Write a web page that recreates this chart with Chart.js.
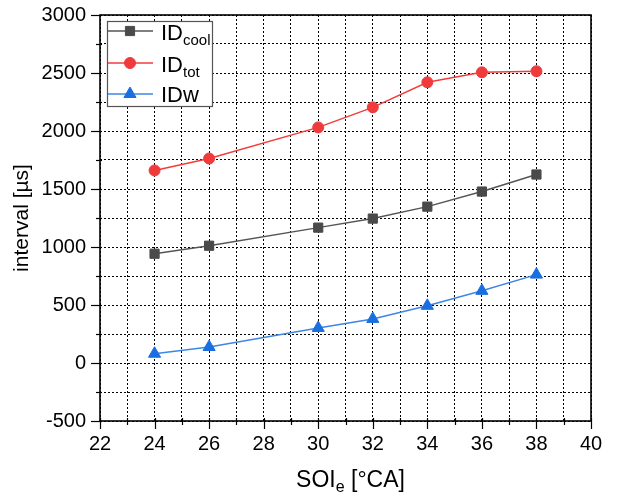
<!DOCTYPE html>
<html><head><meta charset="utf-8">
<script src="https://cdn.jsdelivr.net/npm/chart.js@4/dist/chart.umd.min.js"></script>
<style>html,body{margin:0;padding:0;background:#fff}#wrap{width:625px;height:497px}</style>
</head><body><div id="wrap"><canvas id="c" width="625" height="497"></canvas></div>
<script>
const xValues = [24, 26, 30, 32, 34, 36, 38];
const idCool = [942, 1011, 1167, 1245, 1348, 1478, 1625];
const idTot = [1660, 1763, 2031, 2204, 2420, 2506, 2515];
const idW = [80, 138, 302, 380, 493, 622, 762];
const xTickLabels = [22, 24, 26, 28, 30, 32, 34, 36, 38, 40];
const yTickLabels = [-500, 0, 500, 1000, 1500, 2000, 2500, 3000];
const seriesNames = [["ID", "cool"], ["ID", "tot"], ["IDw", ""]];

const FONT = "'Liberation Sans', Arial, sans-serif";
const styles = [
  {line: '#555555', fill: '#4a4a4a', point: 'rect', r: 6.5},
  {line: '#f23c3c', fill: '#ef3b3b', point: 'circle', r: 5.5},
  {line: '#3d86e6', fill: '#1a6fe0', point: 'triangle', r: 7}
];
const seriesData = [idCool, idTot, idW];

function drawMarker(ctx, st, x, y) {
  ctx.save();
  ctx.fillStyle = st.fill; ctx.strokeStyle = st.fill; ctx.lineWidth = 1;
  ctx.beginPath();
  if (st.point === 'rect') {
    const s = st.r * Math.SQRT1_2;
    ctx.rect(x - s, y - s, 2 * s, 2 * s);
  } else if (st.point === 'circle') {
    ctx.arc(x, y, st.r, 0, Math.PI * 2);
  } else {
    let rad = 0;
    ctx.moveTo(x + Math.sin(rad) * st.r, y - Math.cos(rad) * st.r);
    rad += 2 * Math.PI / 3;
    ctx.lineTo(x + Math.sin(rad) * st.r, y - Math.cos(rad) * st.r);
    rad += 2 * Math.PI / 3;
    ctx.lineTo(x + Math.sin(rad) * st.r, y - Math.cos(rad) * st.r);
    ctx.closePath();
  }
  ctx.fill(); ctx.stroke();
  ctx.restore();
}

const decor = {
  id: 'decor',
  afterDraw(chart) {
    const ctx = chart.ctx;
    const {left, right, top, bottom} = chart.chartArea;
    const xs = chart.scales.x, ys = chart.scales.y;
    ctx.save();
    // ticks
    ctx.strokeStyle = '#000'; ctx.lineWidth = 1.2;
    for (let v = 22; v <= 40; v += 1) {
      const p = Math.round(xs.getPixelForValue(v)) + 0.5;
      const major = xTickLabels.includes(v);
      ctx.beginPath(); ctx.moveTo(p, bottom - 3); ctx.lineTo(p, bottom + (major ? 8 : 4)); ctx.stroke();
    }
    for (let v = -500; v <= 3000; v += 250) {
      const p = Math.round(ys.getPixelForValue(v)) + 0.5;
      const major = yTickLabels.includes(v);
      ctx.beginPath(); ctx.moveTo(left + 2, p); ctx.lineTo(left - (major ? 9 : 4), p); ctx.stroke();
    }
    // frame
    ctx.lineWidth = 1.6;
    ctx.strokeRect(left, top, right - left, bottom - top);

    // axis titles
    ctx.fillStyle = '#000';
    ctx.font = '23px ' + FONT;
    ctx.textBaseline = 'alphabetic';
    const mainA = 'SOI', sub = 'e', mainB = ' [°CA]';
    const wA = ctx.measureText(mainA).width, wB = ctx.measureText(mainB).width;
    ctx.font = '16px ' + FONT;
    const wS = ctx.measureText(sub).width;
    const total = wA + wS + wB;
    let tx = (left + right) / 2 + 5 - total / 2;
    const ty = 487;
    ctx.font = '23px ' + FONT; ctx.textAlign = 'left';
    ctx.fillText(mainA, tx, ty);
    ctx.font = '16px ' + FONT; ctx.fillText(sub, tx + wA, ty + 5);
    ctx.font = '23px ' + FONT; ctx.fillText(mainB, tx + wA + wS, ty);

    ctx.save();
    ctx.font = '21px ' + FONT;
    ctx.translate(22, (top + bottom) / 2);
    ctx.rotate(-Math.PI / 2);
    ctx.textAlign = 'center'; ctx.textBaseline = 'middle';
    ctx.fillText('interval [µs]', 0, 0);
    ctx.restore();

    // legend
    const bx = 107, by = 21, bw = 105, bh = 85;
    ctx.fillStyle = '#fff'; ctx.fillRect(bx, by, bw, bh);
    ctx.strokeStyle = '#555'; ctx.lineWidth = 1.2;
    ctx.strokeRect(bx + 0.5, by + 0.5, bw, bh);
    const rows = [31, 63, 94];
    const bases = [40, 71.5, 101.5];
    for (let i = 0; i < 3; i++) {
      const st = styles[i];
      ctx.strokeStyle = st.line; ctx.lineWidth = 1.5;
      ctx.beginPath(); ctx.moveTo(bx + 1, rows[i]); ctx.lineTo(153, rows[i]); ctx.stroke();
      drawMarker(ctx, st, 130, rows[i]);
      ctx.fillStyle = '#000'; ctx.textAlign = 'left'; ctx.textBaseline = 'alphabetic';
      ctx.font = '22px ' + FONT;
      const [m, s] = seriesNames[i];
      ctx.fillText(m, 161, bases[i]);
      const wm = ctx.measureText(m).width;
      if (s) { ctx.font = '15px ' + FONT; ctx.fillText(s, 161 + wm, bases[i] + 5); }
    }
    ctx.restore();
  }
};

const datasets = seriesData.map((arr, i) => ({
  label: seriesNames[i].join(''),
  data: xValues.map((x, j) => ({x: x, y: arr[j]})),
  borderColor: styles[i].line,
  backgroundColor: styles[i].fill,
  pointBackgroundColor: styles[i].fill,
  pointBorderColor: styles[i].fill,
  pointStyle: styles[i].point,
  pointRadius: styles[i].r,
  pointBorderWidth: 1,
  borderWidth: 1.5,
  tension: 0
}));

new Chart(document.getElementById('c'), {
  type: 'line',
  data: {datasets},
  plugins: [decor],
  options: {
    responsive: false,
    animation: false,
    devicePixelRatio: 1,
    layout: {padding: {top: 15, right: 34, left: 0, bottom: 0}},
    plugins: {legend: {display: false}, tooltip: {enabled: false}},
    scales: {
      x: {
        type: 'linear', min: 22, max: 40,
        afterFit: s => { s.height = 76; s.paddingLeft = 0; s.paddingRight = 0; },
        afterBuildTicks: s => { const t = []; for (let v = 22; v <= 40; v++) t.push({value: v}); s.ticks = t; },
        ticks: {
          autoSkip: false, maxRotation: 0, padding: 11, color: '#000',
          font: {family: FONT, size: 20},
          callback: v => xTickLabels.includes(v) ? String(v) : ''
        },
        grid: {color: '#000', lineWidth: 1, drawTicks: false},
        border: {display: false, dash: [2, 2]}
      },
      y: {
        type: 'linear', min: -500, max: 3000,
        afterFit: s => { s.width = 100; s.paddingTop = 0; s.paddingBottom = 0; },
        afterBuildTicks: s => { const t = []; for (let v = -500; v <= 3000; v += 250) t.push({value: v}); s.ticks = t; },
        ticks: {
          autoSkip: false, padding: 14, color: '#000',
          font: {family: FONT, size: 20},
          callback: v => yTickLabels.includes(v) ? String(v) : ''
        },
        grid: {color: '#000', lineWidth: 1, drawTicks: false},
        border: {display: false, dash: [2, 2]}
      }
    }
  }
});
</script></body></html>
